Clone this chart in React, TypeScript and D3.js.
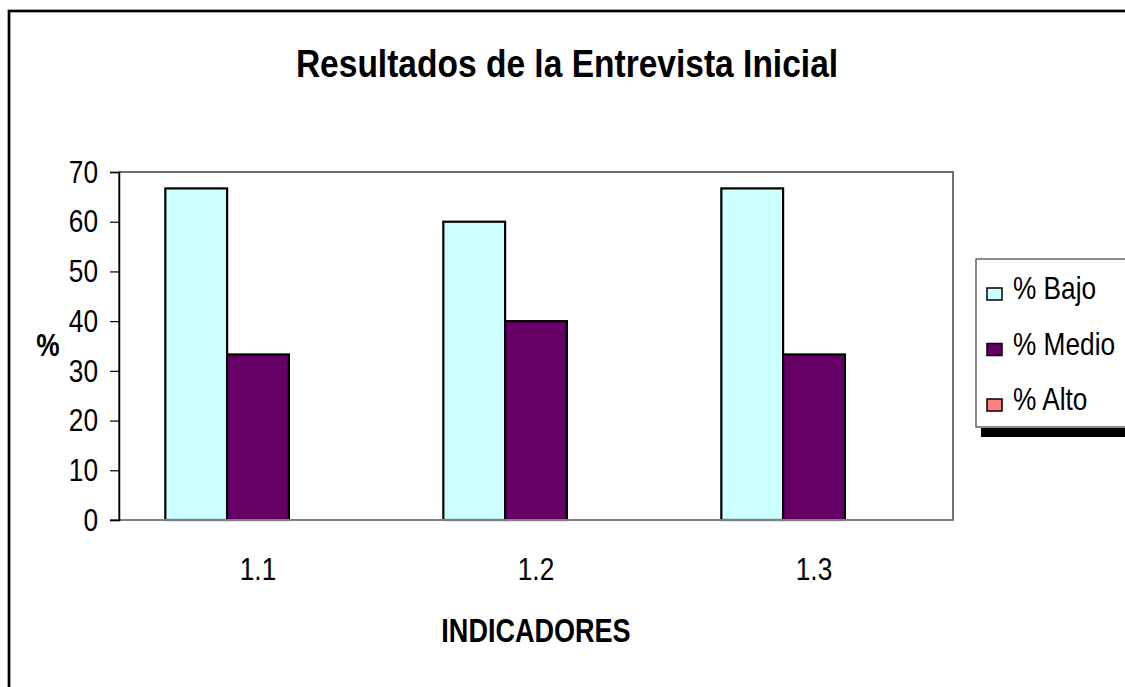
import React, { useEffect, useRef } from 'react';
import * as d3 from 'd3';

const categories = ['1.1', '1.2', '1.3'];
const seriesNames = ['% Bajo', '% Medio', '% Alto'];
const bajo = [66.7, 60, 66.7];
const medio = [33.3, 40, 33.3];
const alto = [0, 0, 0];
const yTicks = [0, 10, 20, 30, 40, 50, 60, 70];
const colors = ['#CCFFFF', '#660066', '#FF8080'];

const W = 1125;
const H = 687;
const FONT = '"Liberation Sans", Arial, sans-serif';
const NARROW = 0.82; // no narrow font installed, squeeze the regular one

export default function App() {
  const svgRef = useRef<SVGSVGElement>(null);

  useEffect(() => {
    const svg = d3.select(svgRef.current);
    svg.selectAll('*').remove();

    const plot = { left: 119, right: 953, top: 172, bottom: 520 };
    const series = [bajo, medio, alto];

    // adds a horizontally squeezed text at (x, y)
    const label = (parent: any, x: number, y: number, txt: string, size: number, bold = false, sx = NARROW) =>
      parent.append('text')
        .attr('transform', `translate(${x},${y}) scale(${sx},1)`)
        .attr('text-anchor', 'middle')
        .style('font-family', FONT)
        .style('font-weight', bold ? 'bold' : 'normal')
        .style('font-size', size + 'px')
        .text(txt);

    // outer chart frame (right/bottom run off the picture)
    svg.append('rect')
      .attr('x', 9).attr('y', 11)
      .attr('width', W + 50).attr('height', H + 50)
      .attr('fill', 'white')
      .attr('stroke', 'black')
      .attr('stroke-width', 2.7);

    label(svg, 567, 77, 'Resultados de la Entrevista Inicial', 39, true, 0.86);

    const x = d3.scaleBand<string>()
      .domain(categories)
      .range([plot.left, plot.right])
      .paddingInner(1 / 3)
      .paddingOuter(1 / 6);

    const xs = d3.scaleBand<number>()
      .domain(d3.range(series.length))
      .range([0, x.bandwidth()]);

    const y = d3.scaleLinear().domain([0, 70]).range([plot.bottom, plot.top]);

    // plot area border
    svg.append('rect')
      .attr('x', plot.left).attr('y', plot.top)
      .attr('width', plot.right - plot.left)
      .attr('height', plot.bottom - plot.top)
      .attr('fill', 'white')
      .attr('stroke', '#404040')
      .attr('stroke-width', 1.5);

    // bars
    series.forEach((vals, s) => {
      svg.append('g').selectAll('rect')
        .data(vals)
        .enter().append('rect')
        .attr('x', (d, i) => (x(categories[i]) as number) + (xs(s) as number))
        .attr('y', d => y(d))
        .attr('width', xs.bandwidth())
        .attr('height', d => y(0) - y(d))
        .attr('fill', colors[s])
        .attr('stroke', d => d > 0 ? 'black' : 'none')
        .attr('stroke-width', 2.2);
    });

    // x axis line
    svg.append('line')
      .attr('x1', 110).attr('x2', plot.right)
      .attr('y1', y(0)).attr('y2', y(0))
      .attr('stroke', '#808080')
      .attr('stroke-width', 2);

    // y axis
    const yAxis = svg.append('g')
      .attr('transform', `translate(${plot.left},0)`)
      .call(d3.axisLeft(y).tickValues(yTicks).tickSize(9).tickPadding(12).tickFormat(d3.format('d')));
    yAxis.select('.domain')
      .attr('stroke', 'black')
      .attr('stroke-width', 1.5);
    yAxis.selectAll('.tick line').attr('stroke', 'black').attr('stroke-width', 1.2);
    yAxis.selectAll('.tick text')
      .attr('x', null)
      .attr('transform', `translate(-21,0) scale(${NARROW},1)`)
      .attr('fill', 'black')
      .style('font-family', FONT)
      .style('font-size', '32px');

    // category labels
    categories.forEach(c => label(svg, (x(c) as number) + x.bandwidth() / 2, 580, c, 32));

    label(svg, (plot.left + plot.right) / 2, 642, 'INDICADORES', 33, true);
    label(svg, 48, 356, '%', 32, true);

    // legend
    const legend = svg.append('g').attr('transform', 'translate(976,259)');
    legend.append('rect')
      .attr('x', 5).attr('y', 169)
      .attr('width', 200).attr('height', 9)
      .attr('fill', 'black');
    legend.append('rect')
      .attr('x', 0).attr('y', 0)
      .attr('width', 200).attr('height', 168)
      .attr('fill', 'white')
      .attr('stroke', '#404040')
      .attr('stroke-width', 1.2);

    seriesNames.forEach((name, i) => {
      const cy = 40 + i * 55.5;
      legend.append('rect')
        .attr('x', 11).attr('y', cy - 11)
        .attr('width', 15).attr('height', 12)
        .attr('fill', colors[i])
        .attr('stroke', 'black')
        .attr('stroke-width', 1.5);
      label(legend, 37, cy, name, 32).attr('text-anchor', 'start');
    });
  }, []);

  return (
    <div style={{ position: 'absolute', left: 0, top: 0 }}>
      <svg ref={svgRef} width={W} height={H} style={{ display: 'block' }}></svg>
    </div>
  );
}
